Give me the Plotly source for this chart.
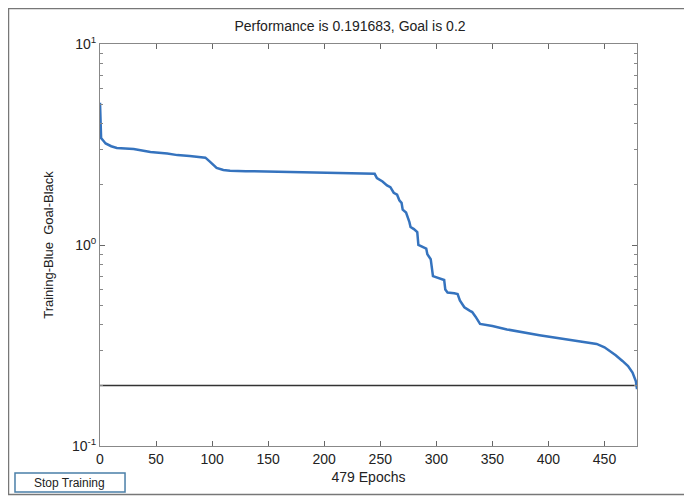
import plotly.graph_objects as go

# training performance (epoch, mse)
epochs = [0, 1, 3, 5, 10, 15, 30, 45, 60, 69, 80, 94, 98, 104, 110, 116, 130, 143,
          160, 184, 210, 230, 245, 247, 250, 252, 256, 259, 262, 265, 267, 269, 270,
          273, 276, 277, 280, 283, 284, 287, 291, 292, 295, 297, 303, 307, 308, 310,
          316, 319, 321, 325, 330, 332, 335, 339, 350, 363, 392, 422, 443, 450, 455,
          460, 466, 471, 475, 478, 479]
perf = [5.1, 3.4, 3.3, 3.2, 3.1, 3.04, 3.0, 2.9, 2.85, 2.8, 2.77, 2.72, 2.6, 2.42, 2.36,
        2.34, 2.33, 2.32, 2.31, 2.29, 2.28, 2.27, 2.26, 2.15, 2.1, 2.07, 1.98, 1.94,
        1.82, 1.78, 1.67, 1.62, 1.5, 1.45, 1.3, 1.23, 1.2, 1.16, 1.0, 0.98, 0.96, 0.9,
        0.85, 0.7, 0.68, 0.67, 0.6, 0.58, 0.575, 0.57, 0.53, 0.49, 0.47, 0.464, 0.44,
        0.405, 0.395, 0.38, 0.356, 0.337, 0.322, 0.31, 0.297, 0.283, 0.265, 0.25,
        0.232, 0.21, 0.1917]

goal = 0.2
goal_x = [0, 479]

font_family = 'Liberation Sans, Arial, sans-serif'
axis_font = dict(family=font_family, size=14, color='#222222')

fig = go.Figure()

fig.add_trace(go.Scatter(
    x=goal_x, y=[goal, goal], mode='lines',
    line=dict(color='#333333', width=1.5), showlegend=False
))
fig.add_trace(go.Scatter(
    x=epochs, y=perf, mode='lines',
    line=dict(color='#3573be', width=2.5), showlegend=False
))

# page body adds 8px, so the figure is drawn 8px smaller and shifted
fig.update_layout(
    width=684, height=492,
    paper_bgcolor='white', plot_bgcolor='white',
    margin=dict(l=92, r=55, t=36, b=54),
    title=dict(text='Performance is 0.191683, Goal is 0.2', x=0.5, xanchor='center',
               y=1 - 18 / 492, yanchor='middle', font=axis_font),
    font=axis_font,
    xaxis=dict(
        range=[0, 479], tickvals=[0, 50, 100, 150, 200, 250, 300, 350, 400, 450],
        ticks='inside', ticklen=5, tickcolor='#666666', showgrid=False, zeroline=False,
        showline=True, linecolor='#888888', linewidth=1, mirror='ticks',
        title=dict(text='479 Epochs', standoff=6, font=dict(family=font_family, size=14,
                                                            color='#222222')),
        tickfont=axis_font
    ),
    yaxis=dict(
        type='log', range=[-1, 1], tickvals=[0.1, 1, 10],
        ticktext=['10<sup>-1</sup>', '10<sup>0</sup>', '10<sup>1</sup>'],
        ticks='inside', ticklen=5, tickcolor='#666666', showgrid=False, zeroline=False,
        showline=True, linecolor='#888888', linewidth=1, mirror='ticks',
        minor=dict(ticks='inside', ticklen=3, tickcolor='#888888',
                   tickvals=[0.2, 0.3, 0.4, 0.5, 0.6, 0.7, 0.8, 0.9,
                             2, 3, 4, 5, 6, 7, 8, 9]),
        title=dict(text='Training-Blue  Goal-Black', standoff=15,
                   font=dict(family=font_family, size=13, color='#222222')),
        tickfont=axis_font
    ),
)

# window frame (top, left, bottom edges) and the "Stop Training" button
fig.add_shape(type='rect', xref='paper', yref='paper', x0=-0.1704, x1=1.5,
              y0=-0.1206, y1=1.0883, line=dict(color='#777777', width=1.5))
fig.add_shape(type='rect', xref='paper', yref='paper', x0=-0.1583, x1=0.0466,
              y0=-0.1144, y1=-0.0672, line=dict(color='#4a7fa8', width=1.5),
              fillcolor='white')
fig.add_annotation(text='Stop Training', xref='paper', yref='paper', x=-0.0559, y=-0.0908,
                   xanchor='center', yanchor='middle', showarrow=False,
                   font=dict(family=font_family, size=12, color='#222222'))

fig.write_html("out.html")
